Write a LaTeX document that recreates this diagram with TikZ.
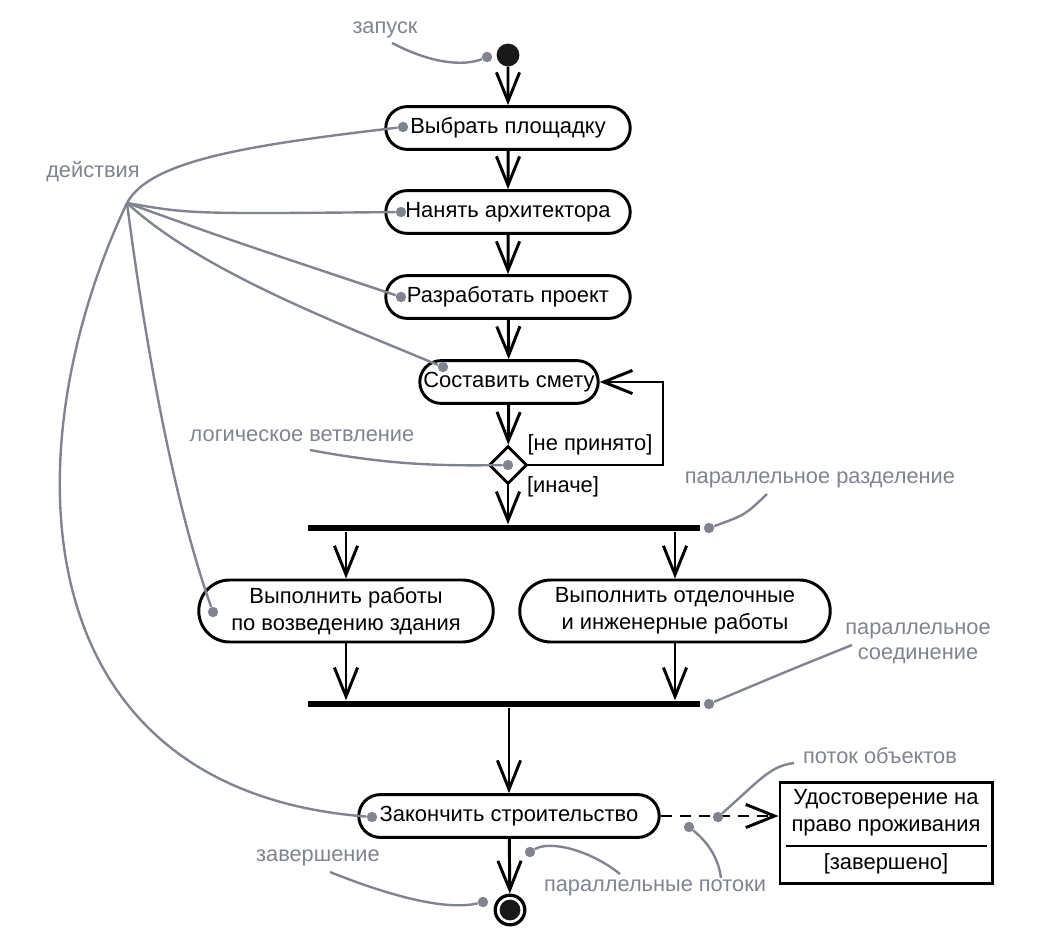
\documentclass[tikz,border=0pt]{standalone}
\usepackage{fontspec}
\setmainfont{Liberation Sans}
\usetikzlibrary{arrows.meta, shapes.misc, shapes.geometric}
\definecolor{notegray}{RGB}{128,132,142}

\begin{document}
\begin{tikzpicture}[x=0.025cm, y=-0.025cm,
  act/.style={rounded rectangle, draw, line width=2.1pt, minimum height=1.07cm,
    inner sep=2pt, align=center, font=\fontsize{15.6}{19.5}\selectfont},
  flow/.style={line width=2.1pt, -{Straight Barb[length=0.72cm, width=0.58cm]}},
  bar/.style={fill=black, inner sep=0pt, minimum width=9.8cm, minimum height=0.17cm},
  note/.style={text=notegray, align=center, font=\fontsize{15.5}{18}\selectfont},
  lead/.style={draw=notegray, line width=1.7pt},
  pin/.style={circle, fill=notegray, inner sep=0pt, minimum size=0.26cm},
  guard/.style={font=\fontsize{15.6}{19}\selectfont}]
  \useasboundingbox (0,0) rectangle (1046,940);

  \node[circle, fill=black!90, inner sep=0pt, minimum size=0.57cm] (init) at (508,55) {};
  \node[act, minimum width=6.25cm] (site) at (508,128) {Выбрать площадку};
  \node[act, minimum width=6.25cm] (arch) at (508,212) {Нанять архитектора};
  \node[act, minimum width=6.25cm] (plan) at (508,297) {Разработать проект};
  \node[act, minimum width=4.6cm] (cost) at (509,382) {Составить смету};
  \node[diamond, draw, line width=2.1pt, minimum size=0.95cm, inner sep=0pt] (dec) at (508,465) {};
  \node[guard] (rej) at (590,445) {[не принято]};
  \node[guard] (els) at (563,487) {[иначе]};
  \node[bar] (fork) at (504,528) {};
  \node[act, minimum width=7.5cm, minimum height=1.55cm] (build) at (346,611)
    {Выполнить работы\\по возведению здания};
  \node[act, minimum width=7.9cm, minimum height=1.55cm] (finish) at (675,611)
    {Выполнить отделочные\\и инженерные работы};
  \node[bar] (join) at (504,704) {};
  \node[act, minimum width=7.65cm] (done) at (509,816) {Закончить строительство};
  \node[circle, draw, line width=2.3pt, minimum size=0.74cm, inner sep=0pt] (fin) at (510,910) {};
  \fill[black!90] (fin) circle (0.26cm);

  \node[draw, line width=2.1pt, minimum width=5.3cm, minimum height=2.52cm] (obj) at (886,833) {};
  \node[guard, align=center] (objname) at (886,813) {Удостоверение на\\право проживания};
  \node[guard] (objstate) at (886,864) {[завершено]};
  \coordinate (sepl) at (786,846);
  \coordinate (sepr) at (987,846);
  \draw[line width=2.1pt] (sepl) -- (sepr);

  \coordinate (loop) at (663,382);
  \draw[flow] (init) -- (site);
  \draw[flow] (site) -- (arch);
  \draw[flow] (arch) -- (plan);
  \draw[flow] (plan) -- (cost);
  \draw[flow] (cost) -- (dec);
  \draw[flow] (dec.east) -| (loop) -- (cost.east);
  \draw[flow] (dec.south) -- (dec.south |- fork.north);
  \draw[flow] (build.north |- fork.south) -- (build.north);
  \draw[flow] (finish.north |- fork.south) -- (finish.north);
  \draw[flow] (build.south) -- (build.south |- join.north);
  \draw[flow] (finish.south) -- (finish.south |- join.north);
  \draw[flow] (done.north |- join.south) -- (done.north);
  \draw[flow] (done) -- (fin);
  \draw[flow, dash pattern=on 0.28cm off 0.2cm] (done.east) -- (obj.west |- done.east);

  \node[note] (lstart) at (385,30) {запуск};
  \node[note] (lact) at (93,172) {действия};
  \node[note] (ldec) at (302,436) {логическое ветвление};
  \node[note] (lfork) at (820,480) {параллельное разделение};
  \node[note] (ljoin) at (918,643) {параллельное\\соединение};
  \node[note] (lobj) at (880,756) {поток объектов};
  \node[note] (lpar) at (655,888) {параллельные потоки};
  \node[note] (lend) at (318,858) {завершение};

  \node[pin] (p0) at (487,57) {};
  \node[pin] (p1) at (403,127) {};
  \node[pin] (p2) at (401,212) {};
  \node[pin] (p3) at (401,297) {};
  \node[pin] (p4) at (443,367) {};
  \node[pin] (p5) at (213,612) {};
  \node[pin] (p6) at (372,817) {};
  \node[pin] (p7) at (508,465) {};
  \node[pin] (p8) at (709,528) {};
  \node[pin] (p9) at (709,704) {};
  \node[pin] (p10) at (718,817) {};
  \node[pin] (p11) at (530,852) {};
  \node[pin] (p12) at (689,827) {};
  \node[pin] (p13) at (483,902) {};

  \coordinate (hub) at (127,203);
  \coordinate (c0) at (392,43);
  \coordinate (c7) at (310,450);
  \coordinate (c8) at (767,494);
  \coordinate (c9) at (852,645);
  \coordinate (c10) at (794,763);
  \coordinate (c11) at (620,874);
  \coordinate (c12) at (721,878);
  \coordinate (c13) at (330,872);

  \draw[lead] (c0) .. controls (440,68) and (470,64) .. (p0);
  \draw[lead] (hub) .. controls (150,160) and (250,145) .. (p1);
  \draw[lead] (hub) .. controls (190,214) .. (p2);
  \draw[lead] (hub) .. controls (230,240) .. (p3);
  \draw[lead] (hub) .. controls (200,270) and (330,320) .. (p4);
  \draw[lead] (hub) .. controls (150,380) and (180,520) .. (p5);
  \draw[lead] (hub) .. controls (10,450) and (20,790) .. (p6);
  \draw[lead] (c7) .. controls (390,465) and (440,466) .. (p7);
  \draw[lead] (c8) .. controls (745,515) .. (p8);
  \draw[lead] (c9) .. controls (790,670) .. (p9);
  \draw[lead] (c10) .. controls (770,766) and (760,780) .. (p10);
  \draw[lead] (c11) .. controls (590,850) and (550,840) .. (p11);
  \draw[lead] (c12) .. controls (718,855) and (705,840) .. (p12);
  \draw[lead] (c13) .. controls (400,900) and (450,910) .. (p13);
\end{tikzpicture}
\end{document}
